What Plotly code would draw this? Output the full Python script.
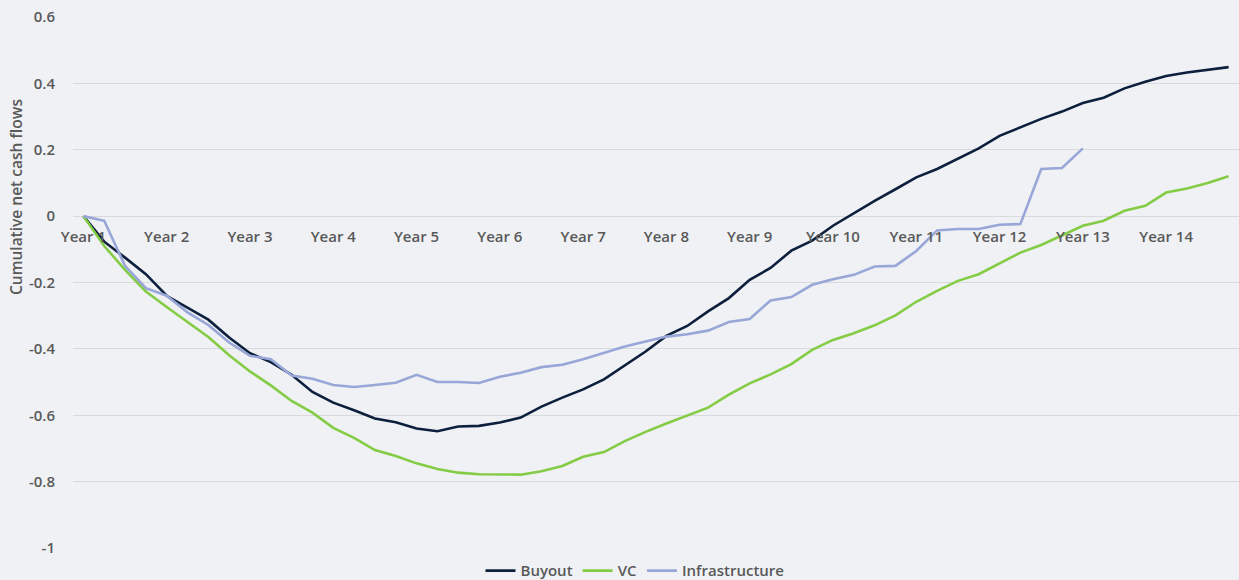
import plotly.graph_objects as go

# Quarterly points; a "Year N" label every 4 quarters
n_quarters = 56
year_labels = [f"Year {k}" for k in range(1, 15)]

buyout = [0, -0.077, -0.125, -0.175, -0.240, -0.276, -0.312, -0.366, -0.413, -0.440,
          -0.478, -0.530, -0.562, -0.585, -0.610, -0.621, -0.640, -0.648, -0.634, -0.632,
          -0.622, -0.607, -0.574, -0.547, -0.522, -0.492, -0.449, -0.408, -0.361, -0.331,
          -0.287, -0.247, -0.192, -0.156, -0.104, -0.074, -0.029, 0.009, 0.046, 0.081,
          0.117, 0.142, 0.172, 0.204, 0.242, 0.267, 0.293, 0.315, 0.341, 0.357,
          0.385, 0.405, 0.422, 0.433, 0.441, 0.449]

vc = [0, -0.090, -0.162, -0.227, -0.274, -0.318, -0.364, -0.419, -0.468, -0.510,
      -0.557, -0.592, -0.638, -0.668, -0.705, -0.723, -0.745, -0.762, -0.773, -0.778,
      -0.779, -0.779, -0.769, -0.753, -0.725, -0.711, -0.678, -0.650, -0.625, -0.602,
      -0.577, -0.538, -0.504, -0.477, -0.446, -0.403, -0.373, -0.353, -0.329, -0.299,
      -0.258, -0.225, -0.195, -0.175, -0.142, -0.110, -0.087, -0.059, -0.029, -0.014,
      0.016, 0.031, 0.071, 0.083, 0.100, 0.120]

infrastructure = [0, -0.014, -0.150, -0.217, -0.240, -0.290, -0.328, -0.381, -0.421, -0.431,
                  -0.480, -0.490, -0.509, -0.515, -0.509, -0.502, -0.478, -0.500, -0.500, -0.503,
                  -0.484, -0.472, -0.455, -0.448, -0.431, -0.411, -0.393, -0.378, -0.363, -0.356,
                  -0.345, -0.319, -0.310, -0.254, -0.244, -0.207, -0.190, -0.177, -0.152, -0.150,
                  -0.105, -0.043, -0.039, -0.039, -0.026, -0.024, 0.142, 0.145, 0.204]

y_tickvals = [0.6, 0.4, 0.2, 0, -0.2, -0.4, -0.6, -0.8, -1]
y_ticktext = ["0.6", "0.4", "0.2", "0", "-0.2", "-0.4", "-0.6", "-0.8", "-1"]

quarters = list(range(n_quarters))
year_tickvals = quarters[::4]

BG = "#eff1f4"
GRID = "#d9dadd"
TXT = "#595959"
FONT = "Open Sans"
FW = 600

fig = go.Figure()
fig.add_trace(go.Scatter(x=quarters[:len(buyout)], y=buyout, mode="lines", name="Buyout",
                         line=dict(color="#0c1f3d", width=2.6)))
fig.add_trace(go.Scatter(x=quarters[:len(vc)], y=vc, mode="lines", name="VC",
                         line=dict(color="#84cc45", width=2.6)))
fig.add_trace(go.Scatter(x=quarters[:len(infrastructure)], y=infrastructure, mode="lines",
                         name="Infrastructure", line=dict(color="#98a6d8", width=2.6)))

y_min, y_max = -1.0, 0.6
zero_pos = (0 - y_min) / (y_max - y_min)

fig.update_layout(
    width=1239, height=580,
    margin=dict(l=73, r=0, t=17, b=32, autoexpand=False),
    paper_bgcolor=BG, plot_bgcolor=BG,
    font=dict(family=FONT, color=TXT, size=15),
    showlegend=True,
    legend=dict(orientation="h", x=0.482, xanchor="center", y=-0.043, yanchor="middle",
                font=dict(family=FONT, size=15, color=TXT, weight=FW),
                itemwidth=30, tracegroupgap=0, bgcolor="rgba(0,0,0,0)"),
    xaxis=dict(range=[-0.5, n_quarters - 0.5], tickmode="array", tickvals=year_tickvals,
               ticktext=year_labels, showgrid=False, zeroline=False, showline=False,
               anchor="free", position=zero_pos, ticks="outside", ticklen=7,
               tickcolor="rgba(0,0,0,0)",
               tickfont=dict(family=FONT, size=15, color=TXT, weight=FW)),
    yaxis=dict(range=[y_min, y_max], tickmode="array", tickvals=y_tickvals, ticktext=y_ticktext,
               showgrid=True, gridcolor=GRID, gridwidth=1, zeroline=False, showline=False,
               ticks="outside", ticklen=14, tickcolor="rgba(0,0,0,0)",
               tickfont=dict(family=FONT, size=15, color=TXT, weight=FW)),
    annotations=[dict(text="Cumulative net cash flows", textangle=-90, xref="paper", yref="paper",
                      x=(16 - 73) / 1166, y=(548 - 197) / 531, xanchor="center", yanchor="middle",
                      showarrow=False, font=dict(family=FONT, size=15.5, color=TXT, weight=FW))],
)

fig.write_html("out.html")
